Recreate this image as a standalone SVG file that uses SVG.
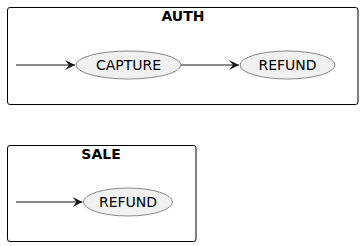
<svg xmlns="http://www.w3.org/2000/svg" width="363" height="246" viewBox="0 0 363 246">
<style>
.box{fill:none;stroke:#000;stroke-width:1}
.title{font-family:"DejaVu Sans",sans-serif;font-weight:bold;font-size:14px;text-anchor:middle;fill:#000}
.st{fill:#F1F1F1;stroke:#181818;stroke-width:0.5}
.lbl{font-family:"DejaVu Sans",sans-serif;font-size:14px;text-anchor:middle;fill:#000}
.edge{stroke:#181818;stroke-width:1;fill:none}
</style>
<defs>
<marker id="arr" markerWidth="12" markerHeight="10" refX="10" refY="5" orient="auto" markerUnits="userSpaceOnUse">
<path d="M0,0 L10,5 L0,10 L4,5 Z" fill="#181818"/>
</marker>
</defs>
<g id="AUTH">
<rect class="box" x="7.5" y="7.5" width="350.5" height="97" rx="2.5"/>
<text class="title" x="183" y="21">AUTH</text>
</g>
<g id="SALE">
<rect class="box" x="7.5" y="145.5" width="188.5" height="96" rx="2.5"/>
<text class="title" x="101" y="159">SALE</text>
</g>
<g id="auth_capture">
<ellipse class="st" cx="128.5" cy="65" rx="52.5" ry="14"/>
<text class="lbl" x="128.5" y="70">CAPTURE</text>
</g>
<g id="auth_refund">
<ellipse class="st" cx="287.5" cy="65" rx="47.5" ry="14"/>
<text class="lbl" x="287.5" y="70">REFUND</text>
</g>
<g id="sale_refund">
<ellipse class="st" cx="128" cy="202" rx="44.5" ry="14"/>
<text class="lbl" x="128" y="207">REFUND</text>
</g>
<g id="connectors">
<line class="edge" x1="16" y1="65" x2="75" y2="65" marker-end="url(#arr)"/>
<line class="edge" x1="181" y1="65" x2="239" y2="65" marker-end="url(#arr)"/>
<line class="edge" x1="16" y1="202" x2="82.5" y2="202" marker-end="url(#arr)"/>
</g>
</svg>
